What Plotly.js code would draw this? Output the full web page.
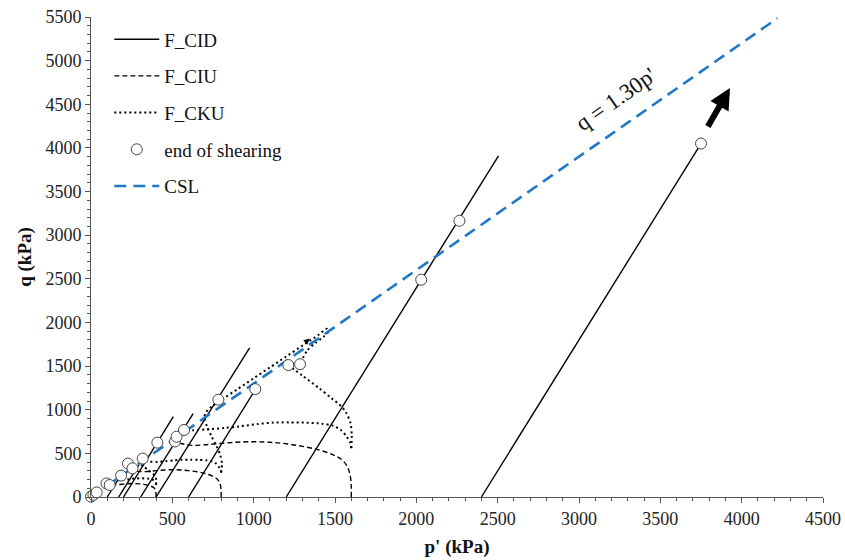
<!DOCTYPE html>
<html>
<head>
<meta charset="utf-8">
<script src="https://cdn.plot.ly/plotly-3.0.1.min.js"></script>
<style>
  html, body { margin: 0; padding: 0; background: #fff; }
  #chart { width: 845px; height: 560px; }
</style>
</head>
<body>
<div id="chart"></div>
<script>
// ---- F_CID: drained compression paths (start on p' axis, straight to end) ----
const cidStartP = [100, 170, 200, 305, 400, 600, 1200, 2400];
const cidEndP   = [185, 318, 506, 628, 975, 1013, 2505, 3750];
const cidEndQ   = [255, 440, 920, 955, 1710, 1240, 3910, 4050];

// ---- F_CIU: isotropically consolidated undrained paths ----
const ciu1600P = [1600, 1600, 1593, 1575, 1540, 1480, 1400, 1300, 1200, 1100, 1000, 900, 800, 700, 620, 560, 516];
const ciu1600Q = [0, 120, 250, 350, 430, 490, 540, 580, 610, 627, 633, 628, 615, 598, 592, 610, 636];
const ciu800P  = [800, 800, 797, 788, 770, 740, 700, 650, 600, 550, 500, 450, 400, 350, 300, 275, 255];
const ciu800Q  = [0, 60, 125, 175, 215, 245, 270, 290, 302, 310, 313, 310, 302, 292, 292, 305, 328];
const ciu400P  = [400, 400, 398, 394, 385, 370, 350, 325, 300, 275, 250, 225, 200, 175, 150, 130, 115];
const ciu400Q  = [0, 30, 62, 88, 108, 122, 135, 145, 150, 153, 154, 152, 148, 143, 139, 137, 137];

// ---- F_CKU: K0-consolidated undrained paths ----
const cku1600aP = [1600, 1603, 1595, 1570, 1541, 1480, 1400, 1300, 1213];
const cku1600aQ = [560, 700, 850, 960, 1035, 1130, 1250, 1390, 1512];
const cku1600bP = [1600, 1595, 1572, 1535, 1490, 1420, 1326, 1220, 1121, 1020, 916, 820, 711, 630, 572];
const cku1600bQ = [560, 620, 690, 770, 815, 840, 852, 855, 853, 835, 810, 790, 775, 765, 768];
const cku800aP  = [800, 805, 795, 770, 742, 715, 697, 705, 740, 800, 900, 1000, 1100, 1200, 1300, 1400, 1449, 1459, 1430, 1380, 1330, 1285];
const cku800aQ  = [280, 380, 480, 590, 691, 800, 900, 965, 1035, 1110, 1235, 1360, 1485, 1610, 1735, 1860, 1928, 1895, 1837, 1765, 1680, 1522];
const cku800bP  = [800, 798, 786, 768, 745, 710, 663, 610, 560, 510, 458, 410, 360, 330, 318];
const cku800bQ  = [280, 310, 345, 385, 408, 420, 426, 428, 427, 420, 410, 402, 405, 420, 440];
const cku400aP  = [400, 401, 399, 392, 385, 370, 350, 325, 303];
const cku400aQ  = [140, 175, 212, 240, 259, 282, 312, 347, 378];
const cku400bP  = [400, 399, 393, 384, 372, 355, 331, 305, 280, 255, 229, 205, 178, 155, 143];
const cku400bQ  = [140, 155, 172, 192, 204, 210, 213, 214, 213, 209, 202, 197, 195, 190, 194];

// ---- end of shearing ----
const endP = [0, 15, 35, 95, 115, 185, 227, 255, 318, 408, 516, 526, 572, 783, 1010, 1213, 1285, 2030, 2265, 3750];
const endQ = [5, 25, 52, 155, 137, 245, 383, 328, 440, 623, 636, 691, 768, 1115, 1236, 1512, 1522, 2490, 3165, 4050];

// ---- critical state line q = M p' ----
const cslM = 1.30;
const cslP = [0, 4220];

const serif = 'Liberation Serif, DejaVu Serif, serif';
const traces = [];

cidStartP.forEach((p0, i) => {
  traces.push({
    x: [p0, cidEndP[i]], y: [0, cidEndQ[i]],
    mode: 'lines', type: 'scatter',
    line: { color: '#000', width: 1.4 },
    name: 'F_CID', legendgroup: 'cid', legendrank: 1,
    showlegend: i === 0, hoverinfo: 'skip'
  });
});

[[ciu1600P, ciu1600Q], [ciu800P, ciu800Q], [ciu400P, ciu400Q]].forEach((pq, i) => {
  traces.push({
    x: pq[0], y: pq[1], mode: 'lines', type: 'scatter',
    line: { color: '#000', width: 1.4, dash: '5px,3px', shape: 'spline', smoothing: 1 },
    name: 'F_CIU', legendgroup: 'ciu', legendrank: 2,
    showlegend: i === 0, hoverinfo: 'skip'
  });
});

[[cku1600aP, cku1600aQ], [cku1600bP, cku1600bQ], [cku800aP, cku800aQ],
 [cku800bP, cku800bQ], [cku400aP, cku400aQ], [cku400bP, cku400bQ]].forEach((pq, i) => {
  traces.push({
    x: pq[0], y: pq[1], mode: 'lines', type: 'scatter',
    line: { color: '#000', width: 2, dash: '2px,3px', shape: 'spline', smoothing: 0.8 },
    name: 'F_CKU', legendgroup: 'cku', legendrank: 3,
    showlegend: i === 0, hoverinfo: 'skip'
  });
});

traces.push({
  x: cslP, y: cslP.map(p => cslM * p), mode: 'lines', type: 'scatter',
  line: { color: '#1F77C8', width: 2.6, dash: '12px,7px' },
  name: 'CSL', legendgroup: 'csl', legendrank: 5, hoverinfo: 'skip'
});

traces.push({
  x: endP, y: endQ, mode: 'markers', type: 'scatter',
  marker: { symbol: 'circle', size: 11, color: '#fff', line: { color: '#444', width: 1 } },
  cliponaxis: false,
  name: 'end of shearing', legendgroup: 'end', legendrank: 4, hoverinfo: 'skip'
});

const axisCommon = {
  showgrid: false, zeroline: false,
  showline: true, linecolor: '#555', linewidth: 1,
  ticks: 'outside', ticklen: 5, tickcolor: '#555', tickwidth: 1,
  tickfont: { family: serif, size: 18, color: '#222' },
  minor: { dtick: 100, ticks: 'outside', ticklen: 3, tickcolor: '#555', tickwidth: 1 }
};

const layout = {
  width: 845, height: 560,
  margin: { l: 91, r: 22, t: 17, b: 63 },
  paper_bgcolor: '#fff', plot_bgcolor: '#fff',
  font: { family: serif, color: '#222' },
  showlegend: true,
  legend: {
    x: 0.025, y: 0.993, xanchor: 'left', yanchor: 'top',
    bgcolor: 'rgba(0,0,0,0)', borderwidth: 0,
    font: { family: serif, size: 19, color: '#111' },
    traceorder: 'grouped', tracegroupgap: 9, itemwidth: 45
  },
  xaxis: Object.assign({}, axisCommon, {
    range: [0, 4500], tick0: 0, dtick: 500,
    title: { text: "<b>p' (kPa)</b>", font: { family: serif, size: 19, color: '#111' }, standoff: 12 }
  }),
  yaxis: Object.assign({}, axisCommon, {
    range: [0, 5500], tick0: 0, dtick: 500,
    title: { text: '<b>q (kPa)</b>', font: { family: serif, size: 19, color: '#111' }, standoff: 8 }
  }),
  annotations: [
    {
      x: 3225, y: 4555, xref: 'x', yref: 'y',
      text: "q = 1.30p'", showarrow: false, textangle: -35,
      font: { family: serif, size: 23, color: '#111' }
    },
    {
      x: 3928, y: 4687, ax: 3787, ay: 4228, xref: 'x', yref: 'y', axref: 'x', ayref: 'y',
      text: '', showarrow: true, arrowhead: 2, arrowsize: 0.7, arrowwidth: 6, arrowcolor: '#000', standoff: 0
    },
    {
      x: 1345, y: 1815, ax: 1310, ay: 1760, xref: 'x', yref: 'y', axref: 'x', ayref: 'y',
      text: '', showarrow: true, arrowhead: 2, arrowsize: 1, arrowwidth: 1.2, arrowcolor: '#000', standoff: 0
    }
  ]
};

Plotly.newPlot('chart', traces, layout, { staticPlot: true, displayModeBar: false });
</script>
</body>
</html>
